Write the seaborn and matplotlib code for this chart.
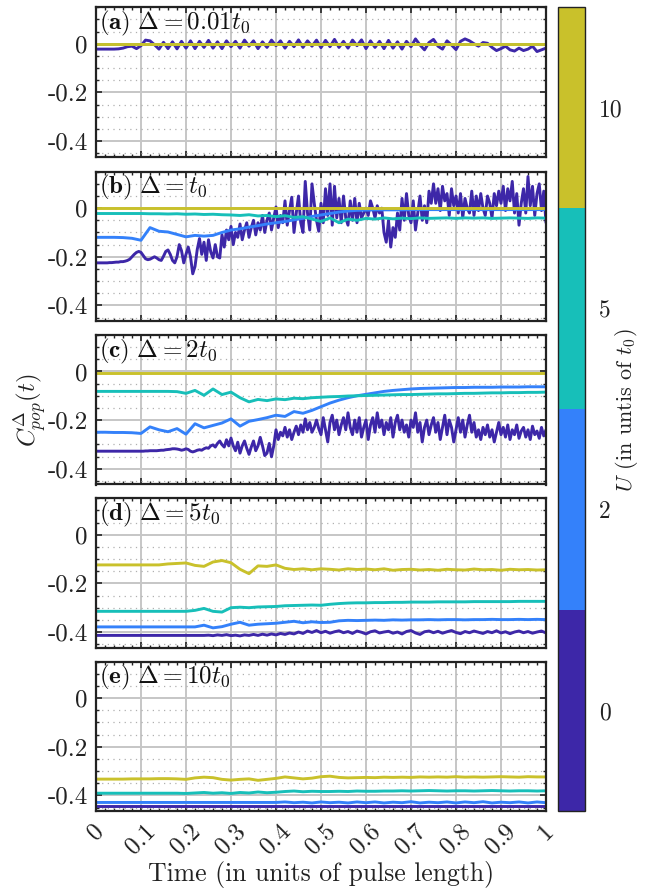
import numpy as np
import matplotlib
matplotlib.use('Agg')
import matplotlib.pyplot as plt
from matplotlib.colors import ListedColormap, BoundaryNorm
from matplotlib.cm import ScalarMappable
from matplotlib.ticker import MultipleLocator
import seaborn as sns

# x grids (time in units of pulse length)
t2 = [0.0, 1.0]
t51 = np.linspace(0, 1, 51)
t101 = np.linspace(0, 1, 101)
t201 = np.linspace(0, 1, 201)

U_values = [0, 2, 5, 10]
U_colors = ['#3d27a8', '#3481fa', '#17bfb9', '#c9c12b']

# ---- panel (a): Delta = 0.01 t0 ----
a_U0 = [-0.022, -0.022, -0.022, -0.022, -0.022, -0.021,
        -0.018, -0.012, -0.010, -0.020, -0.008,
        0.015, 0.012, -0.004, -0.022, 0.006,
        -0.020, 0.008, -0.021, 0.010, -0.018,
        0.012, -0.020, 0.010, -0.015, 0.014,
        -0.018, 0.008, -0.020, 0.012, -0.012,
        0.010, -0.018, 0.015, -0.010, 0.012,
        -0.020, 0.008, -0.015, 0.015, -0.008,
        0.012, -0.018, 0.010, -0.012, 0.016,
        -0.015, 0.012, -0.010, 0.015, -0.016,
        0.014, -0.012, 0.018, -0.015, 0.010,
        -0.018, 0.015, -0.008, 0.016, -0.020,
        0.012, -0.015, 0.010, -0.020, 0.014,
        -0.018, 0.008, -0.022, 0.010, -0.012,
        0.020, -0.005, -0.025, 0.005, 0.018,
        -0.010, -0.022, 0.012, -0.005, -0.024,
        0.010, 0.020, 0.012, 0.000, -0.010,
        0.005, 0.002, -0.015, -0.028, -0.020,
        -0.010, -0.025, -0.030, -0.018, -0.028,
        -0.022, -0.010, -0.032, -0.025, -0.018]
a_U2 = [0.0, 0.0]
a_U5 = [0.0, 0.0]
a_U10 = [0.0, 0.0]

# ---- panel (b): Delta = t0 ----
b_U0 = [-0.225, -0.225, -0.225, -0.225, -0.225, -0.225, -0.224, -0.224, -0.223, -0.222,
        -0.222, -0.220, -0.220, -0.218, -0.215, -0.210, -0.200, -0.190, -0.182, -0.178,
        -0.182, -0.195, -0.208, -0.212, -0.210, -0.205, -0.200, -0.205, -0.212, -0.215,
        -0.198, -0.178, -0.172, -0.190, -0.215, -0.225, -0.200, -0.150, -0.175, -0.225,
        -0.190, -0.160, -0.200, -0.270, -0.240, -0.170, -0.125, -0.190, -0.140, -0.215,
        -0.130, -0.180, -0.205, -0.150, -0.200, -0.205, -0.110, -0.160, -0.090, -0.130,
        -0.075, -0.150, -0.100, -0.120, -0.065, -0.130, -0.090, -0.060, -0.120, -0.080,
        -0.050, -0.110, -0.060, -0.090, -0.030, -0.100, -0.050, -0.020, -0.090, -0.040,
        0.005, -0.080, -0.030, -0.060, 0.030, -0.070, -0.010, 0.045, -0.100, -0.020,
        0.050, -0.060, -0.100, 0.110, -0.020, -0.090, 0.100, 0.020, -0.050, -0.095,
        0.020, -0.060, 0.080, -0.030, 0.100, -0.070, 0.090, -0.040, 0.040, -0.060,
        0.050, -0.040, -0.070, 0.030, -0.050, 0.040, -0.060, 0.020, -0.040, -0.020,
        0.000, -0.030, 0.030, 0.000, -0.040, 0.010, -0.020, 0.000, -0.100, -0.140,
        -0.050, -0.160, -0.080, -0.120, -0.020, -0.090, 0.040, -0.050, 0.060, -0.030,
        -0.060, 0.030, -0.090, -0.020, 0.050, -0.050, 0.010, -0.060, 0.070, 0.020,
        0.100, 0.020, 0.080, -0.010, 0.090, 0.030, 0.060, -0.030, 0.080, 0.010,
        0.050, -0.020, 0.060, -0.040, 0.040, 0.000, -0.020, 0.070, -0.030, 0.050,
        -0.010, 0.060, 0.000, -0.030, 0.050, 0.020, -0.040, 0.060, 0.010, 0.070,
        0.020, 0.090, -0.010, 0.080, 0.030, 0.110, -0.020, 0.060, -0.070, 0.020,
        0.080, -0.020, 0.130, 0.010, 0.090, -0.030, 0.060, 0.100, -0.010, 0.070,
        -0.060]
b_U2 = [-0.120, -0.120, -0.120, -0.121, -0.124, -0.132, -0.080, -0.095, -0.098, -0.108,
        -0.118, -0.112, -0.115, -0.112, -0.100, -0.090, -0.085, -0.078, -0.072, -0.065,
        -0.060, -0.055, -0.048, -0.042, -0.034, -0.028, -0.022, -0.016, -0.012, -0.009,
        -0.008, -0.007, -0.007, -0.007, -0.007, -0.006, -0.006, -0.006, -0.006, -0.006,
        -0.006, -0.006, -0.006, -0.006, -0.006, -0.006, -0.006, -0.006, -0.006, -0.006,
        -0.006]
b_U5 = [-0.022, -0.022, -0.022, -0.022, -0.022, -0.022, -0.023, -0.023, -0.024, -0.023,
        -0.025, -0.024, -0.026, -0.025, -0.027,
        -0.028, -0.030, -0.027, -0.032, -0.030, -0.035, -0.031, -0.038, -0.035, -0.045,
        -0.055, -0.040, -0.060, -0.045, -0.050,
        -0.042, -0.045, -0.040, -0.044, -0.041, -0.043, -0.040, -0.042, -0.041, -0.040,
        -0.042, -0.040, -0.041, -0.040, -0.042, -0.041, -0.040, -0.041, -0.042, -0.040,
        -0.041]
b_U10 = [0.0, 0.0]

# ---- panel (c): Delta = 2 t0 ----
c_U0 = [-0.328, -0.328, -0.328, -0.328, -0.328, -0.328, -0.328, -0.328, -0.328, -0.328,
        -0.328, -0.328, -0.328, -0.328, -0.328, -0.328, -0.328, -0.328, -0.328, -0.328,
        -0.328, -0.328, -0.327, -0.327, -0.326, -0.326, -0.326, -0.326, -0.325, -0.324,
        -0.324, -0.322, -0.321, -0.320, -0.318, -0.318, -0.319, -0.321, -0.324, -0.322,
        -0.318, -0.321, -0.328, -0.331, -0.328, -0.324, -0.322, -0.324, -0.318, -0.314,
        -0.316, -0.306, -0.302, -0.311, -0.296, -0.286, -0.301, -0.311, -0.281, -0.306,
        -0.274, -0.306, -0.326, -0.291, -0.336, -0.306, -0.286, -0.316, -0.341, -0.311,
        -0.286, -0.326, -0.306, -0.271, -0.306, -0.346, -0.336, -0.296, -0.351, -0.306,
        -0.240, -0.280, -0.250, -0.265, -0.230, -0.270, -0.240, -0.280, -0.250, -0.225,
        -0.260, -0.220, -0.250, -0.195, -0.240, -0.210, -0.250, -0.230, -0.200, -0.235,
        -0.260, -0.190, -0.240, -0.290, -0.210, -0.180, -0.240, -0.200, -0.260, -0.220,
        -0.190, -0.240, -0.170, -0.230, -0.260, -0.200, -0.250, -0.190, -0.270, -0.230,
        -0.200, -0.280, -0.220, -0.190, -0.250, -0.170, -0.230, -0.200, -0.260, -0.210,
        -0.240, -0.190, -0.270, -0.210, -0.180, -0.240, -0.200, -0.250, -0.220, -0.270,
        -0.200, -0.230, -0.170, -0.250, -0.210, -0.290, -0.230, -0.200, -0.260, -0.220,
        -0.190, -0.250, -0.210, -0.280, -0.230, -0.180, -0.260, -0.200, -0.230, -0.290,
        -0.240, -0.190, -0.250, -0.200, -0.270, -0.220, -0.180, -0.250, -0.210, -0.270,
        -0.240, -0.280, -0.230, -0.260, -0.220, -0.270, -0.240, -0.290, -0.250, -0.210,
        -0.260, -0.230, -0.270, -0.220, -0.280, -0.240, -0.260, -0.220, -0.275, -0.245,
        -0.230, -0.270, -0.240, -0.280, -0.225, -0.260, -0.245, -0.275, -0.230, -0.265,
        -0.240]
c_U2 = [-0.250, -0.250, -0.251, -0.251, -0.252, -0.255,
        -0.228, -0.240, -0.248, -0.235, -0.258, -0.215, -0.232, -0.222, -0.212, -0.195,
        -0.225, -0.205, -0.198, -0.190, -0.180, -0.185, -0.165, -0.172, -0.160, -0.145,
        -0.130, -0.118, -0.108, -0.100, -0.094, -0.088, -0.082, -0.078, -0.075, -0.072,
        -0.070, -0.069, -0.068, -0.067, -0.066, -0.066, -0.065, -0.065, -0.065, -0.064,
        -0.064, -0.064, -0.063, -0.063, -0.063]
c_U5 = [-0.082, -0.082, -0.082, -0.082, -0.082, -0.082, -0.082, -0.082, -0.082,
        -0.083, -0.090, -0.078, -0.098, -0.072, -0.095, -0.085, -0.108, -0.125, -0.115,
        -0.120, -0.113, -0.116, -0.110, -0.112, -0.108, -0.106,
        -0.104, -0.103, -0.101, -0.100, -0.099, -0.098, -0.097, -0.096, -0.095, -0.095,
        -0.094, -0.093, -0.092, -0.092, -0.091, -0.090, -0.090, -0.089, -0.088, -0.088,
        -0.087, -0.087, -0.086, -0.086, -0.085]
c_U10 = [-0.005, -0.005]

# ---- panel (d): Delta = 5 t0 ----
d_U0 = [-0.414] * 25 + [
        -0.413, -0.415, -0.412, -0.414, -0.411, -0.415, -0.413, -0.416, -0.412, -0.414,
        -0.410, -0.414, -0.409, -0.413, -0.408, -0.412, -0.406, -0.410, -0.404, -0.408,
        -0.400, -0.406, -0.396, -0.402, -0.394, -0.403, -0.397, -0.405, -0.399, -0.395,
        -0.403, -0.398, -0.406, -0.396, -0.401, -0.408, -0.399, -0.395, -0.404, -0.400,
        -0.397, -0.405, -0.400, -0.408, -0.398, -0.394, -0.404, -0.410, -0.399, -0.396,
        -0.403, -0.397, -0.405, -0.399, -0.394, -0.402, -0.407, -0.398, -0.403, -0.396,
        -0.401, -0.406, -0.398, -0.403, -0.395, -0.404, -0.399, -0.407, -0.400, -0.396,
        -0.403, -0.398, -0.405, -0.400, -0.396, -0.404]
d_U2 = [-0.379, -0.379, -0.379, -0.379, -0.379, -0.379, -0.379, -0.379, -0.379, -0.379,
        -0.379, -0.379,
        -0.372, -0.383, -0.378, -0.368, -0.360, -0.372, -0.368, -0.366, -0.364, -0.360,
        -0.356, -0.362, -0.358, -0.361, -0.360,
        -0.354, -0.352, -0.353, -0.352, -0.351, -0.352, -0.350, -0.351, -0.350, -0.350,
        -0.349, -0.350, -0.349, -0.349, -0.350, -0.349, -0.349, -0.348, -0.349, -0.349,
        -0.348, -0.349, -0.348, -0.349]
d_U5 = [-0.315, -0.315, -0.315, -0.315, -0.315, -0.315, -0.315, -0.315, -0.315, -0.315,
        -0.315, -0.311, -0.303, -0.315, -0.318, -0.300, -0.298, -0.300, -0.297, -0.296,
        -0.295, -0.292, -0.291, -0.290, -0.289, -0.290,
        -0.286, -0.283, -0.281, -0.280, -0.280, -0.279, -0.279, -0.278, -0.278, -0.277,
        -0.277, -0.277, -0.276, -0.276, -0.276, -0.276, -0.275, -0.275, -0.275, -0.275,
        -0.275, -0.274, -0.274, -0.274, -0.274]
d_U10 = [-0.124, -0.124, -0.124, -0.124, -0.124, -0.124, -0.124, -0.124,
         -0.120, -0.118, -0.116, -0.126, -0.130, -0.112, -0.106, -0.115, -0.142, -0.160,
         -0.128, -0.130, -0.124, -0.138, -0.143, -0.140, -0.144, -0.140,
         -0.142, -0.145, -0.140, -0.143, -0.141, -0.144, -0.140, -0.146, -0.143, -0.142,
         -0.145, -0.143, -0.146, -0.142, -0.144, -0.145, -0.141, -0.144, -0.143, -0.146,
         -0.142, -0.144, -0.143, -0.145, -0.144]

# ---- panel (e): Delta = 10 t0 ----
e_U0 = [-0.443, -0.443]
e_U2 = [-0.429] * 21 + [
        -0.427, -0.430, -0.428, -0.431, -0.427, -0.430, -0.428, -0.431, -0.427, -0.430,
        -0.427, -0.431, -0.428, -0.430, -0.426, -0.431, -0.428, -0.430, -0.427, -0.431,
        -0.427, -0.430, -0.426, -0.431, -0.428, -0.430, -0.427, -0.431, -0.427, -0.430]
e_U5 = [-0.391, -0.391, -0.391, -0.391, -0.391, -0.391, -0.391, -0.391, -0.391, -0.391,
        -0.392, -0.390, -0.388, -0.391, -0.389, -0.392, -0.388, -0.390, -0.386, -0.389,
        -0.387, -0.384, -0.382, -0.385, -0.383, -0.384,
        -0.384, -0.383, -0.384, -0.382, -0.383, -0.383, -0.382, -0.382, -0.381, -0.382,
        -0.381, -0.380, -0.381, -0.382, -0.381, -0.381, -0.382, -0.381, -0.380, -0.381,
        -0.382, -0.381, -0.381, -0.382, -0.381]
e_U10 = [-0.333, -0.333, -0.333, -0.333, -0.332, -0.332, -0.332, -0.331, -0.331, -0.332,
         -0.334, -0.328, -0.325, -0.327, -0.334, -0.337, -0.334, -0.332, -0.338, -0.334,
         -0.330, -0.324, -0.328, -0.332, -0.329, -0.323,
         -0.321, -0.326, -0.328, -0.327, -0.326, -0.327, -0.325, -0.326, -0.325, -0.326,
         -0.324, -0.325, -0.324, -0.325, -0.323, -0.325, -0.324, -0.325, -0.324, -0.323,
         -0.324, -0.325, -0.323, -0.324, -0.324]

panel_labels = [r'$\mathbf{(a)}\ \Delta = 0.01t_0$', r'$\mathbf{(b)}\ \Delta = t_0$',
                r'$\mathbf{(c)}\ \Delta = 2t_0$', r'$\mathbf{(d)}\ \Delta = 5t_0$',
                r'$\mathbf{(e)}\ \Delta = 10t_0$']
panel_series = [
    [(t101, a_U0), (t2, a_U2), (t2, a_U5), (t2, a_U10)],
    [(t201, b_U0), (t51, b_U2), (t51, b_U5), (t2, b_U10)],
    [(t201, c_U0), (t51, c_U2), (t51, c_U5), (t2, c_U10)],
    [(t101, d_U0), (t51, d_U2), (t51, d_U5), (t51, d_U10)],
    [(t2, e_U0), (t51, e_U2), (t51, e_U5), (t51, e_U10)],
]
x_ticks = [0, 0.1, 0.2, 0.3, 0.4, 0.5, 0.6, 0.7, 0.8, 0.9, 1]
x_ticklabels = ['0', '0.1', '0.2', '0.3', '0.4', '0.5', '0.6', '0.7', '0.8', '0.9', '1']
y_ticks = [-0.4, -0.2, 0]
y_ticklabels = ['-0.4', '-0.2', '0']

sns.set_style('ticks')
plt.rcParams['font.family'] = ['cmr10', 'DejaVu Serif']
plt.rcParams['mathtext.fontset'] = 'cm'
plt.rcParams['axes.unicode_minus'] = False

W, H = 657, 888
fig = plt.figure(figsize=(W / 100, H / 100), dpi=100)

left, right = 96, 546
tops = [7.3, 171.7, 335, 498.3, 661.7]
ph = 149.5
axes = []
for i, top in enumerate(tops):
    ax = fig.add_axes([left / W, (H - top - ph) / H, (right - left) / W, ph / H])
    for (x, y), col in zip(panel_series[i], U_colors):
        sns.lineplot(x=x, y=y, ax=ax, color=col, linewidth=2.1,
                     estimator=None, sort=False, legend=False)
    ax.set_xlim(0, 1)
    ax.set_ylim(-0.465, 0.15)
    ax.set_xticks(x_ticks)
    ax.xaxis.set_minor_locator(MultipleLocator(0.02))
    ax.set_yticks(y_ticks)
    ax.set_yticklabels(y_ticklabels)
    ax.yaxis.set_minor_locator(MultipleLocator(0.05))
    ax.grid(which='major', color='#c6c6c6', linewidth=1.4, zorder=0)
    ax.grid(which='minor', axis='y', color='#b0b0b0', linewidth=0.9,
            linestyle=(0, (1, 3.5)), zorder=0)
    ax.set_axisbelow(True)
    ax.tick_params(which='both', direction='in', top=True, right=True,
                   colors='#222222', labelsize=18, labelcolor='#222222')
    ax.tick_params(which='major', length=4, width=1.2)
    ax.tick_params(which='minor', length=2.2, width=1.0)
    ax.tick_params(axis='y', pad=6)
    for s in ax.spines.values():
        s.set_linewidth(1.6)
        s.set_color('#222222')
    ax.set_xlabel('')
    ax.set_ylabel('')
    ax.text(0.006, 0.99, panel_labels[i], transform=ax.transAxes,
            ha='left', va='top', fontsize=18, color='#111111')
    if i < 4:
        ax.set_xticklabels([])
    else:
        ax.set_xticklabels(x_ticklabels, rotation=45, ha='center')
        ax.tick_params(axis='x', pad=6)
        ax.set_xlabel('Time (in units of pulse length)', fontsize=18.5,
                      color='#222222', labelpad=2)
    axes.append(ax)

fig.text(30 / W, 1 - 410 / H, r'$C^{\Delta}_{pop}(t)$', rotation=90,
         ha='center', va='center', fontsize=18, color='#222222')

# discrete colourbar for U
cax = fig.add_axes([558 / W, (H - 811) / H, 27 / W, 804 / H])
cmap = ListedColormap(U_colors)
norm = BoundaryNorm([0, 1, 2, 3, 4], cmap.N)
cb = fig.colorbar(ScalarMappable(norm=norm, cmap=cmap), cax=cax,
                  ticks=[0.5, 1.5, 2.5, 3.5])
cb.ax.set_yticklabels([str(u) for u in U_values])
cb.ax.tick_params(direction='in', length=5, width=0.8, labelsize=17,
                  pad=10, colors='#222222')
cb.ax.minorticks_off()
cb.outline.set_linewidth(1.0)
cb.outline.set_edgecolor('#222222')
fig.text(626 / W, 1 - 410 / H, r'$U$ (in untis of $t_0$)', rotation=90,
         ha='center', va='center', fontsize=16, color='#222222')

fig.savefig('out.png', dpi=100)
